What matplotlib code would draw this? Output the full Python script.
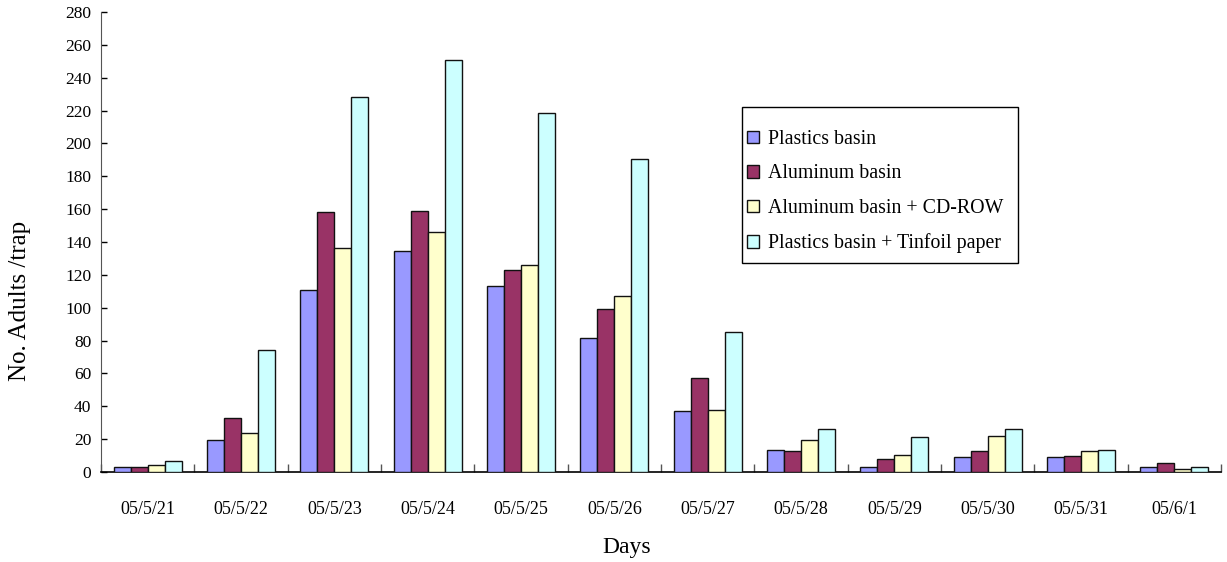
import matplotlib
matplotlib.use("Agg")
import matplotlib.pyplot as plt
from matplotlib.patches import Rectangle
import numpy as np

days = ["05/5/21", "05/5/22", "05/5/23", "05/5/24", "05/5/25", "05/5/26",
        "05/5/27", "05/5/28", "05/5/29", "05/5/30", "05/5/31", "05/6/1"]
series_names = ["Plastics basin", "Aluminum basin",
                "Aluminum basin + CD-ROW", "Plastics basin + Tinfoil paper"]
plastics = [3, 19.5, 110.5, 134.5, 113.5, 81.5, 37, 13.5, 3, 9, 9, 3]
aluminum = [3, 33, 158.5, 159, 123, 99, 57.5, 12.5, 8, 12.5, 10, 5.5]
alu_cd = [4.5, 24, 136.5, 146, 126, 107, 38, 19.5, 10.5, 22, 12.5, 2]
plast_tin = [7, 74.5, 228.5, 250.5, 218.5, 190.5, 85, 26, 21.5, 26, 13.5, 3]
colors = ["#9999FF", "#993366", "#FFFFCC", "#CCFFFF"]

plt.rcParams['font.family'] = ['Liberation Serif', 'DejaVu Serif']

W, H = 1227, 562
fig = plt.figure(figsize=(W/100, H/100), dpi=100)
ax = fig.add_axes([101/W, 1-472/H, 1120/W, 460/H])

x = np.arange(len(days))
w = 1/5.5
all_series = [plastics, aluminum, alu_cd, plast_tin]
for i, (vals, c, name) in enumerate(zip(all_series, colors, series_names)):
    ax.bar(x + (i - 1.5) * w, vals, width=w, color=c, edgecolor="#111111",
           linewidth=1.0, label=name, zorder=3)

ax.set_xlim(-0.5, 11.5)
ax.set_ylim(0, 280)
ax.set_yticks(np.arange(0, 281, 20))
ax.set_xticks(x)
ax.set_xticklabels(days, fontsize=13)
ax.set_xticks(np.arange(-0.5, 12, 1), minor=True)
ax.tick_params(axis='x', which='major', length=0, pad=21)
ax.tick_params(axis='x', which='minor', direction='in', length=6, width=1, color='#555555')
ax.tick_params(axis='y', direction='in', length=4, width=1, labelsize=12.5, pad=7)
for s in ['top', 'right']:
    ax.spines[s].set_visible(False)
ax.spines['left'].set_color('#555555')
ax.spines['bottom'].set_linewidth(1.2)

fig.text(20/W, 1-301/H, "No. Adults /trap", rotation=90, fontsize=18,
         ha='center', va='center')
fig.text(627/W, 1-547/H, "Days", fontsize=17, ha='center', va='center')

# legend frame
frame = Rectangle((741.5/W, 1-263/H), (1018-741.5)/W, (263-107)/H,
                  transform=fig.transFigure, fill=True, facecolor='white',
                  edgecolor='black', linewidth=1.0, zorder=4, clip_on=False)
ax.add_patch(frame)
leg = ax.legend(loc='upper left', bbox_to_anchor=(747/W, 1-130/H),
                bbox_transform=fig.transFigure, fontsize=14.3, frameon=False,
                handlelength=0.6, handleheight=0.6, handletextpad=0.45,
                labelspacing=0.78, borderpad=0, borderaxespad=0)
leg.set_zorder(6)

fig.savefig("out.png", dpi=100)
